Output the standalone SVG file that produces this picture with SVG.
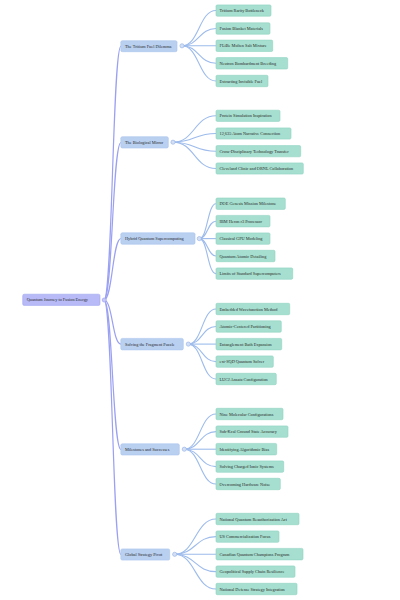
<svg xmlns="http://www.w3.org/2000/svg" width="400" height="600" viewBox="0 0 400 600">
<style>
text{font-family:"Liberation Serif","Times New Roman",serif;font-size:4.3px;fill:#2a2a2a;}
.leaf rect{fill:#a6dfcf;stroke:#90d4c1;stroke-width:.6;}
.branch rect{fill:#b9d0f1;stroke:#a9c4ed;stroke-width:.6;}
.root rect{fill:#b7baf6;stroke:#a5a9f1;stroke-width:.6;}
.ctl{fill:#d4dff4;stroke:#8eaee5;stroke-width:.6;}
.rctl{fill:#c6c9f6;stroke:#959bee;stroke-width:.6;}
.l1{fill:none;stroke:#9aa0f2;stroke-width:1.2;}
.l2{fill:none;stroke:#9dbbec;stroke-width:1.1;}
</style>
<rect width="400" height="600" fill="#fff"/>
<g id="connectors">
<path class="l1" d="M104,300 C112.5,300 112.5,46.2 121,46.2"/>
<path class="l1" d="M104,300 C112.5,300 112.5,142.5 121,142.5"/>
<path class="l1" d="M104,300 C112.5,300 112.5,238.5 121,238.5"/>
<path class="l1" d="M104,300 C112.5,300 112.5,344.2 121,344.2"/>
<path class="l1" d="M104,300 C112.5,300 112.5,449.5 121,449.5"/>
<path class="l1" d="M104,300 C112.5,300 112.5,554.5 121,554.5"/>
<path class="l2" d="M182,45.8 C199,45.8 199,10.5 216,10.5"/>
<path class="l2" d="M182,45.8 C199,45.8 199,28.5 216,28.5"/>
<path class="l2" d="M182,45.8 C199,45.8 199,45.8 216,45.8"/>
<path class="l2" d="M182,45.8 C199,45.8 199,63.3 216,63.3"/>
<path class="l2" d="M182,45.8 C199,45.8 199,81 216,81"/>
<path class="l2" d="M173,142.2 C194.5,142.2 194.5,115.8 216,115.8"/>
<path class="l2" d="M173,142.2 C194.5,142.2 194.5,133.5 216,133.5"/>
<path class="l2" d="M173,142.2 C194.5,142.2 194.5,151.2 216,151.2"/>
<path class="l2" d="M173,142.2 C194.5,142.2 194.5,168.5 216,168.5"/>
<path class="l2" d="M199.3,238.6 C207.6,238.6 207.6,203.7 216,203.7"/>
<path class="l2" d="M199.3,238.6 C207.6,238.6 207.6,221.2 216,221.2"/>
<path class="l2" d="M199.3,238.6 C207.6,238.6 207.6,238.6 216,238.6"/>
<path class="l2" d="M199.3,238.6 C207.6,238.6 207.6,256 216,256"/>
<path class="l2" d="M199.3,238.6 C207.6,238.6 207.6,273.6 216,273.6"/>
<path class="l2" d="M188.3,344.1 C202.1,344.1 202.1,309 216,309"/>
<path class="l2" d="M188.3,344.1 C202.1,344.1 202.1,326.5 216,326.5"/>
<path class="l2" d="M188.3,344.1 C202.1,344.1 202.1,344.1 216,344.1"/>
<path class="l2" d="M188.3,344.1 C202.1,344.1 202.1,361.6 216,361.6"/>
<path class="l2" d="M188.3,344.1 C202.1,344.1 202.1,379 216,379"/>
<path class="l2" d="M184.3,449.2 C200.1,449.2 200.1,414 216,414"/>
<path class="l2" d="M184.3,449.2 C200.1,449.2 200.1,431.6 216,431.6"/>
<path class="l2" d="M184.3,449.2 C200.1,449.2 200.1,449.2 216,449.2"/>
<path class="l2" d="M184.3,449.2 C200.1,449.2 200.1,466.6 216,466.6"/>
<path class="l2" d="M184.3,449.2 C200.1,449.2 200.1,484 216,484"/>
<path class="l2" d="M174.7,554.3 C195.3,554.3 195.3,519 216,519"/>
<path class="l2" d="M174.7,554.3 C195.3,554.3 195.3,536.6 216,536.6"/>
<path class="l2" d="M174.7,554.3 C195.3,554.3 195.3,554.2 216,554.2"/>
<path class="l2" d="M174.7,554.3 C195.3,554.3 195.3,571.6 216,571.6"/>
<path class="l2" d="M174.7,554.3 C195.3,554.3 195.3,589 216,589"/>
</g>
<g id="root" class="root">
<rect x="22.7" y="294.2" width="77.3" height="11.2" rx="1.5"/>
<text x="26.7" y="301.3">Quantum Journey to Fusion Energy</text>
<circle class="rctl" cx="104.3" cy="300" r="2.1"/>
</g>
<g id="b1" class="branch">
<rect x="120.8" y="40.7" width="56.2" height="11" rx="1.5"/>
<text x="125" y="47.7">The Tritium Fuel Dilemma</text>
<circle class="ctl" cx="182" cy="45.8" r="2.1"/>
</g>
<g id="b2" class="branch">
<rect x="120.8" y="136.7" width="47.5" height="11.3" rx="1.5"/>
<text x="125" y="143.8">The Biological Mirror</text>
<circle class="ctl" cx="173" cy="142.2" r="2.1"/>
</g>
<g id="b3" class="branch">
<rect x="120.8" y="232.8" width="74.2" height="11.4" rx="1.5"/>
<text x="125" y="240">Hybrid Quantum Supercomputing</text>
<circle class="ctl" cx="199.3" cy="238.6" r="2.1"/>
</g>
<g id="b4" class="branch">
<rect x="120.8" y="338.4" width="62.5" height="11.5" rx="1.5"/>
<text x="125" y="345.6">Solving the Fragment Puzzle</text>
<circle class="ctl" cx="188.3" cy="344.1" r="2.1"/>
</g>
<g id="b5" class="branch">
<rect x="120.8" y="443.8" width="58.5" height="11.2" rx="1.5"/>
<text x="125" y="450.9">Milestones and Successes</text>
<circle class="ctl" cx="184.3" cy="449.2" r="2.1"/>
</g>
<g id="b6" class="branch">
<rect x="120.8" y="548.9" width="48.9" height="11.2" rx="1.5"/>
<text x="125" y="556">Global Strategy Pivot</text>
<circle class="ctl" cx="174.7" cy="554.3" r="2.1"/>
</g>
<g id="b1l1" class="leaf"><rect x="216" y="4.9" width="55" height="11.3" rx="1.3"/><text x="219.5" y="12">Tritium Rarity Bottleneck</text></g>
<g id="b1l2" class="leaf"><rect x="216" y="22.8" width="54" height="11.4" rx="1.3"/><text x="219.5" y="30">Fusion Blanket Materials</text></g>
<g id="b1l3" class="leaf"><rect x="216" y="40.1" width="56.7" height="11.4" rx="1.3"/><text x="219.5" y="47.3">FLiBe Molten Salt Mixture</text></g>
<g id="b1l4" class="leaf"><rect x="216" y="57.6" width="71.7" height="11.4" rx="1.3"/><text x="219.5" y="64.8">Neutron Bombardment Breeding</text></g>
<g id="b1l5" class="leaf"><rect x="216" y="75.3" width="52" height="11.4" rx="1.3"/><text x="219.5" y="82.5">Extracting Invisible Fuel</text></g>
<g id="b2l1" class="leaf"><rect x="216" y="110.2" width="64" height="11.2" rx="1.3"/><text x="219.5" y="117.3">Protein Simulation Inspiration</text></g>
<g id="b2l2" class="leaf"><rect x="216" y="127.9" width="75" height="11.2" rx="1.3"/><text x="219.5" y="135">12,635 Atom Narrative Connection</text></g>
<g id="b2l3" class="leaf"><rect x="216" y="145.6" width="84.7" height="11.2" rx="1.3"/><text x="219.5" y="152.7">Cross-Disciplinary Technology Transfer</text></g>
<g id="b2l4" class="leaf"><rect x="216" y="162.9" width="87.3" height="11.2" rx="1.3"/><text x="219.5" y="170">Cleveland Clinic and ORNL Collaboration</text></g>
<g id="b3l1" class="leaf"><rect x="216" y="198" width="69.3" height="11.4" rx="1.3"/><text x="219.5" y="205.2">DOE Genesis Mission Milestone</text></g>
<g id="b3l2" class="leaf"><rect x="216" y="215.4" width="54" height="11.5" rx="1.3"/><text x="219.5" y="222.7">IBM Heron r3 Processor</text></g>
<g id="b3l3" class="leaf"><rect x="216" y="232.9" width="54" height="11.4" rx="1.3"/><text x="219.5" y="240.1">Classical GPU Modeling</text></g>
<g id="b3l4" class="leaf"><rect x="216" y="250.3" width="59" height="11.4" rx="1.3"/><text x="219.5" y="257.5">Quantum Atomic Detailing</text></g>
<g id="b3l5" class="leaf"><rect x="216" y="267.9" width="76.7" height="11.4" rx="1.3"/><text x="219.5" y="275.1">Limits of Standard Supercomputers</text></g>
<g id="b4l1" class="leaf"><rect x="216" y="303.3" width="73.7" height="11.4" rx="1.3"/><text x="219.5" y="310.5">Embedded Wavefunction Method</text></g>
<g id="b4l2" class="leaf"><rect x="216" y="320.8" width="65.3" height="11.4" rx="1.3"/><text x="219.5" y="328">Atomic-Centered Partitioning</text></g>
<g id="b4l3" class="leaf"><rect x="216" y="338.4" width="65.7" height="11.5" rx="1.3"/><text x="219.5" y="345.6">Entanglement Bath Expansion</text></g>
<g id="b4l4" class="leaf"><rect x="216" y="355.9" width="57.3" height="11.4" rx="1.3"/><text x="219.5" y="363.1">ext-SQD Quantum Solver</text></g>
<g id="b4l5" class="leaf"><rect x="216" y="373.3" width="60.3" height="11.4" rx="1.3"/><text x="219.5" y="380.5">LUCJ Ansatz Configuration</text></g>
<g id="b5l1" class="leaf"><rect x="216" y="408.3" width="67" height="11.4" rx="1.3"/><text x="219.5" y="415.5">Nine Molecular Configurations</text></g>
<g id="b5l2" class="leaf"><rect x="216" y="425.9" width="72" height="11.4" rx="1.3"/><text x="219.5" y="433.1">Sub-Kcal Ground State Accuracy</text></g>
<g id="b5l3" class="leaf"><rect x="216" y="443.4" width="60.7" height="11.5" rx="1.3"/><text x="219.5" y="450.7">Identifying Algorithmic Bias</text></g>
<g id="b5l4" class="leaf"><rect x="216" y="460.9" width="67.7" height="11.4" rx="1.3"/><text x="219.5" y="468.1">Solving Charged Ionic Systems</text></g>
<g id="b5l5" class="leaf"><rect x="216" y="478.3" width="64.3" height="11.4" rx="1.3"/><text x="219.5" y="485.5">Overcoming Hardware Noise</text></g>
<g id="b6l1" class="leaf"><rect x="216" y="513.3" width="83" height="11.4" rx="1.3"/><text x="219.5" y="520.5">National Quantum Reauthorization Act</text></g>
<g id="b6l2" class="leaf"><rect x="216" y="530.9" width="63" height="11.4" rx="1.3"/><text x="219.5" y="538.1">US Commercialization Focus</text></g>
<g id="b6l3" class="leaf"><rect x="216" y="548.4" width="87" height="11.5" rx="1.3"/><text x="219.5" y="555.7">Canadian Quantum Champions Program</text></g>
<g id="b6l4" class="leaf"><rect x="216" y="565.9" width="79" height="11.4" rx="1.3"/><text x="219.5" y="573.1">Geopolitical Supply Chain Resilience</text></g>
<g id="b6l5" class="leaf"><rect x="216" y="583.3" width="81" height="11.4" rx="1.3"/><text x="219.5" y="590.5">National Defense Strategy Integration</text></g>
</svg>
